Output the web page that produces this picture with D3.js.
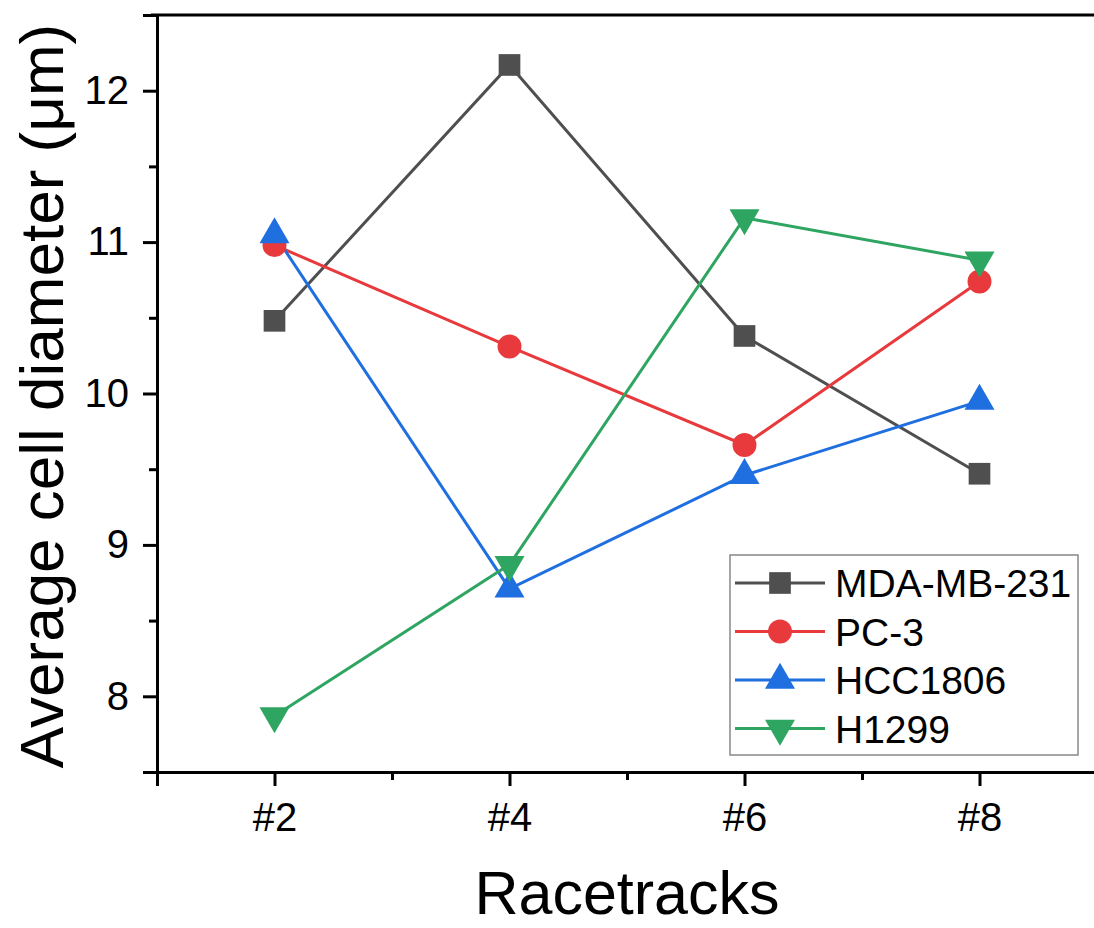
<!DOCTYPE html>
<html>
<head>
<meta charset="utf-8">
<script src="https://cdn.jsdelivr.net/npm/d3@7"></script>
<style>
  body { margin: 0; background: #fff; }
  text { font-family: "Liberation Sans", Arial, sans-serif; fill: #000; }
</style>
</head>
<body>
<div id="chart"></div>
<script>
// data
const racetracks = [2, 4, 6, 8];
const tickLabels = ["#2", "#4", "#6", "#8"];
const seriesNames = ["MDA-MB-231", "PC-3", "HCC1806", "H1299"];
const mda = [10.48, 12.17, 10.38, 9.47];
const pc3 = [10.98, 10.31, 9.66, 10.74];
const hcc1806 = [11.05, 8.71, 9.46, 9.95];
const h1299 = [7.87, 8.87, 11.16, 10.88];

const colors = ["#4f4f4f", "#e8393c", "#1f6fe0", "#2fa562"];
const shapes = ["square", "circle", "up", "down"];

const series = [mda, pc3, hcc1806, h1299].map((vals, i) => ({
    name: seriesNames[i],
    color: colors[i],
    shape: shapes[i],
    points: vals.map((v, j) => ({ x: racetracks[j], y: v }))
}));

const W = 1094, H = 928;
const plotLeft = 157, plotRight = 1097, plotTop = 15, plotBottom = 772;

const svg = d3.select("#chart").append("svg")
    .attr("width", W)
    .attr("height", H);

const x = d3.scaleLinear().domain([1, 9]).range([plotLeft, plotRight]);
const y = d3.scaleLinear().domain([7.5, 12.5]).range([plotBottom, plotTop]);

const symbolFor = (shape) => {
    if (shape === "square") return d3.symbol().type(d3.symbolSquare).size(470)();
    if (shape === "circle") return d3.symbol().type(d3.symbolCircle).size(450)();
    return d3.symbol().type(d3.symbolTriangle).size(390)();
};
const rotFor = (shape) => shape === "down" ? " rotate(180)" : "";

// top frame line
svg.append("line")
    .attr("x1", plotLeft - 6).attr("x2", W)
    .attr("y1", plotTop).attr("y2", plotTop)
    .attr("stroke", "#000").attr("stroke-width", 3);

// x axis
const xMinor = svg.append("g")
    .attr("transform", `translate(0,${plotBottom})`)
    .call(d3.axisBottom(x).tickValues([1, 3, 5, 7]).tickSize(8).tickFormat(""));
const xAxis = svg.append("g")
    .attr("transform", `translate(0,${plotBottom})`)
    .call(d3.axisBottom(x).tickValues(racetracks).tickSize(14)
        .tickFormat((d, i) => tickLabels[i]));
[xMinor, xAxis].forEach(g => {
    g.select(".domain").attr("stroke", "#000").attr("stroke-width", 3);
    g.selectAll(".tick line").attr("stroke", "#000").attr("stroke-width", 3);
});
xAxis.selectAll(".tick text")
    .attr("font-size", 40)
    .attr("y", 31)
    .attr("dy", "0.71em");

// y axis
const yMinor = svg.append("g")
    .attr("transform", `translate(${plotLeft},0)`)
    .call(d3.axisLeft(y).tickValues(d3.range(7.5, 12.51, 1)).tickSize(8).tickFormat(""));
const yAxis = svg.append("g")
    .attr("transform", `translate(${plotLeft},0)`)
    .call(d3.axisLeft(y).tickValues([8, 9, 10, 11, 12]).tickSize(14).tickFormat(d3.format("d")));
[yMinor, yAxis].forEach(g => {
    g.select(".domain").attr("stroke", "#000").attr("stroke-width", 3);
    g.selectAll(".tick line").attr("stroke", "#000").attr("stroke-width", 3);
});
yAxis.selectAll(".tick text")
    .attr("font-size", 40)
    .attr("x", -28);

// axis titles
svg.append("text")
    .attr("x", (plotLeft + plotRight) / 2)
    .attr("y", 914)
    .attr("text-anchor", "middle")
    .attr("font-size", 61)
    .text("Racetracks");

svg.append("text")
    .attr("transform", `translate(63,396) rotate(-90)`)
    .attr("text-anchor", "middle")
    .attr("font-size", 62)
    .text("Average cell diameter (μm)");

// lines
const line = d3.line().x(d => x(d.x)).y(d => y(d.y));
svg.append("g")
    .selectAll("path")
    .data(series)
    .join("path")
    .attr("d", d => line(d.points))
    .attr("fill", "none")
    .attr("stroke", d => d.color)
    .attr("stroke-width", 3);

// markers
series.forEach(s => {
    svg.append("g")
        .selectAll("path")
        .data(s.points)
        .join("path")
        .attr("d", symbolFor(s.shape))
        .attr("transform", d => `translate(${x(d.x)},${y(d.y)})${rotFor(s.shape)}`)
        .attr("fill", s.color);
});

// legend
const legend = svg.append("g");
legend.append("rect")
    .attr("x", 730).attr("y", 555)
    .attr("width", 348).attr("height", 200)
    .attr("fill", "#fff")
    .attr("stroke", "#888")
    .attr("stroke-width", 1.5);

const item = legend.selectAll("g.item")
    .data(series)
    .join("g")
    .attr("class", "item")
    .attr("transform", (d, i) => `translate(0,${583 + i * 48.5})`);
item.append("line")
    .attr("x1", 735).attr("x2", 825)
    .attr("stroke", d => d.color)
    .attr("stroke-width", 3);
item.append("path")
    .attr("d", d => symbolFor(d.shape))
    .attr("transform", d => `translate(780,0)${rotFor(d.shape)}`)
    .attr("fill", d => d.color);
item.append("text")
    .attr("x", 835)
    .attr("dy", "0.36em")
    .attr("font-size", 39)
    .text(d => d.name);
</script>
</body>
</html>
